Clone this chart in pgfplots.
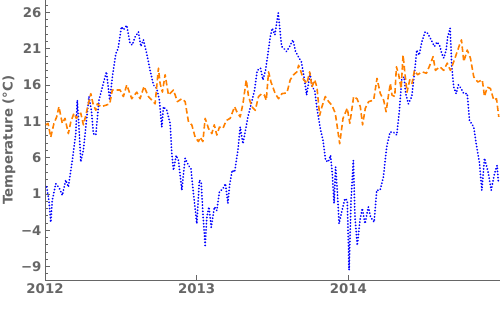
\documentclass[border=0pt]{standalone}
\usepackage{pgfplots}
\pgfplotsset{compat=1.18}
\usepackage{fontspec}
\setmainfont{DejaVu Sans}
\definecolor{mblue}{rgb}{0,0,1}
\definecolor{morange}{rgb}{1,0.5,0}
\definecolor{axgray}{rgb}{0.4,0.4,0.4}
\begin{document}
\begin{tikzpicture}
\useasboundingbox (-45pt,-45pt) rectangle (455pt,280pt);
\begin{axis}[
  scale only axis,
  width=455pt, height=280pt,
  at={(0,0)}, anchor=south west,
  xmin=2012, xmax=2015.0,
  ymin=-10.86, ymax=27.69,
  axis x line=bottom, axis y line=left,
  axis line style={-, draw=axgray, line width=0.8pt},
  tick align=inside,
  tick style={draw=axgray, line width=0.7pt},
  major tick length=5pt, minor tick length=3pt,
  xtick={2012,2013,2014}, xticklabels={2012,2013,2014},
  ytick={-9,-4,1,6,11,16,21,26},
  yticklabels={−9,−4,1,6,11,16,21,26},
  minor ytick={-10,-8,-7,-6,-5,-3,-2,-1,0,2,3,4,5,7,8,9,10,12,13,14,15,17,18,19,20,22,23,24,25,27},
  tick label style={font=\fontsize{13.3}{15}\selectfont\bfseries, text=axgray},
  ylabel={Temperature (°C)},
  ylabel style={at={(axis description cs:-0.0791,0.5)}, anchor=center, font=\fontsize{13.3}{15}\selectfont\bfseries, text=axgray},
]
\addplot[mblue, line width=2pt, line cap=round, line join=round, dash pattern=on 0.01pt off 3.1pt] table {
2012.011 1.95
2012.026 0.1
2012.038 -2.9
2012.048 0.1
2012.071 2.4
2012.092 1.9
2012.114 0.8
2012.137 2.9
2012.154 1.95
2012.180 5.6
2012.203 9.3
2012.213 13.9
2012.224 10.2
2012.236 5.4
2012.253 7.0
2012.269 10.2
2012.290 14.4
2012.306 12.5
2012.319 9.3
2012.335 9.1
2012.356 13.9
2012.378 15.7
2012.405 17.8
2012.427 13.9
2012.444 17.1
2012.467 20.3
2012.482 21.0
2012.504 24.0
2012.517 23.6
2012.539 24.2
2012.561 21.7
2012.576 21.5
2012.594 22.6
2012.616 23.3
2012.632 21.3
2012.649 22.2
2012.671 20.3
2012.693 18.0
2012.715 16.0
2012.737 15.5
2012.754 13.9
2012.770 10.2
2012.781 13.0
2012.803 12.5
2012.825 10.7
2012.836 6.6
2012.847 4.25
2012.865 6.3
2012.880 5.6
2012.902 1.5
2012.924 5.9
2012.946 4.9
2012.962 4.5
2012.979 1.0
2013.001 -3.1
2013.018 2.9
2013.030 2.6
2013.041 -1.7
2013.056 -6.1
2013.067 -2.2
2013.081 -0.8
2013.096 -3.6
2013.117 -0.8
2013.133 -1.3
2013.150 1.3
2013.173 1.7
2013.190 2.4
2013.206 -0.3
2013.217 2.2
2013.234 4.25
2013.250 4.0
2013.272 7.0
2013.287 10.2
2013.305 7.9
2013.322 9.8
2013.338 11.6
2013.360 13.4
2013.382 15.3
2013.399 18.0
2013.421 18.3
2013.437 16.7
2013.454 18.0
2013.470 20.3
2013.485 22.6
2013.498 23.8
2013.516 22.9
2013.527 24.5
2013.538 25.9
2013.547 24.0
2013.560 21.3
2013.576 21.0
2013.593 20.6
2013.613 21.3
2013.635 22.2
2013.652 20.6
2013.670 19.9
2013.690 19.2
2013.708 17.1
2013.725 14.6
2013.741 16.7
2013.747 17.6
2013.762 15.7
2013.778 15.3
2013.795 12.5
2013.817 9.8
2013.833 8.4
2013.850 5.6
2013.868 5.4
2013.883 6.3
2013.894 3.8
2013.906 -0.3
2013.916 4.7
2013.927 1.5
2013.939 -3.1
2013.956 -1.5
2013.978 0.35
2013.993 0.1
2014.005 -9.5
2014.018 0.1
2014.033 5.6
2014.044 -2.2
2014.059 -6.1
2014.077 -2.6
2014.092 -1.0
2014.110 -3.1
2014.132 -0.8
2014.147 -2.2
2014.170 -2.9
2014.187 1.5
2014.209 1.5
2014.231 3.3
2014.253 7.5
2014.275 9.5
2014.297 9.5
2014.319 9.1
2014.335 12.1
2014.352 16.7
2014.368 17.1
2014.378 14.8
2014.396 13.4
2014.418 14.4
2014.436 17.6
2014.451 20.8
2014.467 20.1
2014.484 21.9
2014.506 23.3
2014.523 23.1
2014.546 22.2
2014.568 21.3
2014.585 21.9
2014.601 21.5
2014.616 20.3
2014.629 19.7
2014.645 20.8
2014.655 22.6
2014.671 23.8
2014.682 18.5
2014.695 15.7
2014.711 14.8
2014.726 16.0
2014.744 15.5
2014.761 14.8
2014.784 14.8
2014.799 11.1
2014.827 10.2
2014.843 7.9
2014.865 5.2
2014.880 1.5
2014.898 5.9
2014.913 4.7
2014.924 3.8
2014.942 1.5
2014.964 3.8
2014.981 4.9
2014.990 2.4
};
\addplot[morange, line width=1.6pt, line join=round, dash pattern=on 5.5pt off 3pt] table {
2012.005 10.5
2012.020 10.7
2012.038 8.8
2012.059 10.7
2012.077 11.6
2012.092 13.0
2012.114 10.7
2012.132 11.4
2012.154 9.3
2012.170 10.9
2012.191 12.1
2012.207 11.4
2012.220 11.8
2012.236 12.1
2012.253 10.5
2012.269 11.8
2012.284 13.2
2012.302 14.8
2012.317 13.4
2012.335 12.5
2012.345 13.4
2012.368 13.0
2012.401 13.2
2012.427 13.4
2012.444 15.3
2012.467 15.3
2012.495 15.3
2012.517 14.4
2012.539 16.0
2012.572 14.1
2012.605 15.0
2012.627 14.1
2012.653 15.8
2012.682 14.4
2012.726 13.4
2012.748 18.3
2012.759 16.2
2012.774 15.0
2012.792 17.4
2012.814 14.6
2012.847 15.3
2012.873 13.7
2012.902 14.1
2012.924 13.7
2012.946 10.9
2012.968 10.5
2012.990 8.8
2013.012 8.2
2013.023 8.8
2013.041 8.2
2013.056 11.4
2013.078 10.0
2013.100 9.3
2013.116 10.5
2013.133 9.1
2013.150 10.2
2013.173 10.0
2013.195 11.1
2013.221 11.4
2013.250 13.0
2013.265 12.3
2013.287 11.6
2013.305 13.4
2013.327 16.7
2013.342 14.4
2013.364 13.0
2013.386 12.5
2013.408 14.4
2013.430 14.8
2013.446 14.6
2013.459 13.9
2013.474 17.8
2013.490 16.4
2013.518 14.8
2013.540 14.1
2013.562 14.8
2013.595 14.9
2013.617 16.7
2013.639 17.4
2013.661 17.8
2013.672 18.7
2013.688 17.8
2013.705 16.7
2013.727 16.2
2013.745 17.8
2013.760 15.7
2013.778 16.7
2013.793 15.7
2013.811 11.8
2013.826 13.0
2013.848 14.4
2013.870 13.7
2013.892 13.2
2013.914 12.1
2013.943 7.9
2013.965 11.4
2013.993 12.8
2014.010 10.7
2014.035 14.4
2014.057 14.1
2014.079 13.0
2014.094 10.5
2014.112 12.8
2014.134 13.7
2014.167 13.9
2014.189 16.9
2014.211 14.8
2014.233 13.9
2014.249 12.3
2014.266 14.8
2014.277 16.2
2014.288 14.6
2014.306 14.4
2014.317 18.5
2014.332 17.4
2014.348 15.5
2014.361 20.1
2014.372 17.8
2014.387 15.0
2014.405 16.7
2014.420 16.2
2014.436 18.0
2014.457 17.4
2014.486 17.8
2014.515 17.6
2014.537 18.7
2014.559 19.9
2014.574 18.0
2014.603 18.5
2014.629 18.0
2014.652 19.0
2014.673 18.0
2014.695 19.2
2014.718 20.6
2014.733 21.5
2014.746 22.2
2014.761 19.2
2014.784 20.8
2014.805 19.7
2014.827 17.1
2014.854 16.4
2014.883 16.7
2014.898 14.4
2014.916 15.7
2014.937 15.5
2014.959 13.9
2014.977 14.1
2014.992 11.6
};
\end{axis}
\end{tikzpicture}
\end{document}
